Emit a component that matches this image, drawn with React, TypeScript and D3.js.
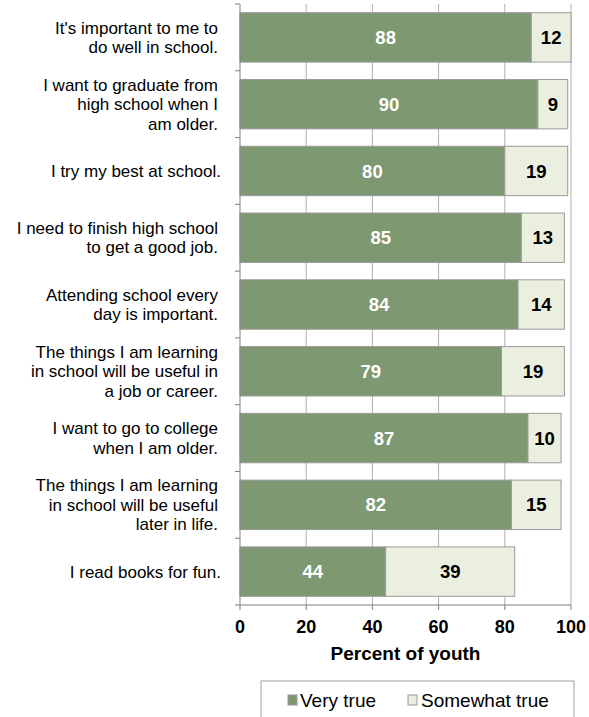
import React from "react";
import * as d3 from "d3";

const categories: string[][] = [
  ["It's important to me to", "do well in school."],
  ["I want to graduate from", "high school when I", "am older."],
  ["I try my best at school."],
  ["I need to finish high school", "to get a good job."],
  ["Attending school every", "day is important."],
  ["The things I am learning", "in school will be useful in", "a job or career."],
  ["I want to go to college", "when I am older."],
  ["The things I am learning", "in school will be useful", "later in life."],
  ["I read books for fun."],
];
const veryTrue = [88, 90, 80, 85, 84, 79, 87, 82, 44];
const somewhatTrue = [12, 9, 19, 13, 14, 19, 10, 15, 39];
const xTicks = [0, 20, 40, 60, 80, 100];
const seriesNames = ["Very true", "Somewhat true"];

const W = 589;
const H = 717;
const GREEN = "#7e9872";
const LIGHT = "#ebefdf";
const FONT = "'Liberation Sans', Arial, sans-serif";

export default function App() {
  const x = d3.scaleLinear().domain([0, 100]).range([240, 571]);
  const idx = categories.map((_, i) => String(i));
  const y = d3.scaleBand().domain(idx).range([4, 605]).paddingInner(0.26).paddingOuter(0.13);
  const bw = y.bandwidth();
  const step = y.step();
  const plotTop = 4;
  const plotBottom = 605;

  return (
    <svg width={W} height={H} style={{ position: "absolute", left: 0, top: 0 }} fontFamily={FONT}>
      {xTicks.slice(1).map((t) => (
        <line key={"g" + t} x1={x(t)} x2={x(t)} y1={plotTop} y2={plotBottom} stroke="#b0b0b0" strokeWidth={1} />
      ))}
      {idx.map((k, i) => {
        const y0 = y(k)!;
        const v = veryTrue[i];
        const s = somewhatTrue[i];
        return (
          <g key={k}>
            <rect x={x(0)} y={y0} width={x(v) - x(0)} height={bw} fill={GREEN} stroke="#9a9a9a" strokeWidth={1} />
            <rect x={x(v)} y={y0} width={x(v + s) - x(v)} height={bw} fill={LIGHT} stroke="#9a9a9a" strokeWidth={1} />
            <text x={(x(0) + x(v)) / 2} y={y0 + bw / 2} dy="0.36em" textAnchor="middle" fill="#fff" fontWeight="bold" fontSize={18.5}>
              {v}
            </text>
            <text x={(x(v) + x(v + s)) / 2} y={y0 + bw / 2} dy="0.36em" textAnchor="middle" fill="#000" fontWeight="bold" fontSize={18.5}>
              {s}
            </text>
            {categories[i].map((line, j) => {
              const n = categories[i].length;
              const lh = 19.5;
              const cy = y0 + bw / 2 + (j - (n - 1) / 2) * lh;
              return (
                <text key={j} x={n === 1 ? 221 : 218} y={cy} dy="0.35em" textAnchor="end" fontSize={17} fill="#000">
                  {line}
                </text>
              );
            })}
          </g>
        );
      })}
      <line x1={x(0)} x2={x(0)} y1={plotTop} y2={plotBottom} stroke="#808080" strokeWidth={1} />
      {d3.range(categories.length + 1).map((i) => (
        <line key={"yt" + i} x1={x(0) - 5} x2={x(0)} y1={plotTop + i * step} y2={plotTop + i * step} stroke="#808080" />
      ))}
      {xTicks.map((t) => (
        <g key={"xt" + t}>
          <line x1={x(t)} x2={x(t)} y1={plotBottom} y2={plotBottom + 5} stroke="#808080" />
          <text x={x(t)} y={627} dy="0.35em" textAnchor="middle" fontWeight="bold" fontSize={18} fill="#000">
            {t}
          </text>
        </g>
      ))}
      <line x1={x(0)} x2={x(100)} y1={plotBottom} y2={plotBottom} stroke="#808080" />
      <text x={(x(0) + x(100)) / 2} y={653} dy="0.35em" textAnchor="middle" fontWeight="bold" fontSize={19} fill="#000">
        Percent of youth
      </text>
      <rect x={261} y={681} width={313} height={50} fill="#fff" stroke="#a0a0a0" strokeWidth={1} />
      <rect x={288} y={695} width={9} height={10} fill={GREEN} stroke="#9a9a9a" />
      <text x={300} y={700} dy="0.35em" fontSize={19} fill="#000">{seriesNames[0]}</text>
      <rect x={408} y={695} width={9} height={10} fill={LIGHT} stroke="#9a9a9a" />
      <text x={421} y={700} dy="0.35em" fontSize={19} fill="#000">{seriesNames[1]}</text>
    </svg>
  );
}
